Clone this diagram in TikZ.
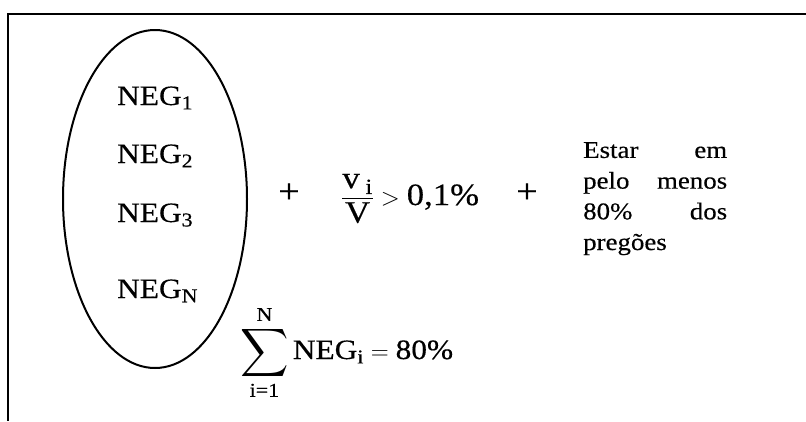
\documentclass[tikz,border=0pt]{standalone}
\usepackage{amsmath}
\usepackage{fontspec}
\setmainfont{Liberation Serif}[FakeStretch=1.12, FakeBold=0.4]
\usetikzlibrary{positioning}

\newcommand{\somatorio}{\mathop{\vcenter{\hbox{\scalebox{1.35}{$\displaystyle\sum$}}}}\limits}

\tikzset{
  negtext/.style={inner sep=0pt, anchor=base west, font=\fontsize{28}{32}\selectfont},
  plussign/.style={inner sep=0pt, anchor=center, font=\fontsize{34}{36}\selectfont},
  mathtext/.style={inner sep=0pt, anchor=base west, font=\fontsize{31}{36}\selectfont},
}

\begin{document}
\begin{tikzpicture}[x=1pt, y=-1pt]
\useasboundingbox (0,0) rectangle (806,421);
% moldura aberta
\draw[line width=2.2pt] (806,14) -- (8,14) -- (8,421);
% conjunto dos negocios
\draw[line width=2pt] (155,199) ellipse [x radius=92, y radius=169];
\foreach \s/\y in {1/105,2/163,3/222,N/298} {
  \node[negtext] (neg\s) at (117,\y) {NEG\textsubscript{\s}};
}
\node[negtext] (soma) at (240,359)
  {$\somatorio_{\text{i=1}}^{\text{N}}\text{NEG}_{\text{i}} = \text{80\%}$};
% criterios
\node[plussign] (mais1) at (289,193) {+};
\node[mathtext] (razao) at (341,205) {$\dfrac{\text{v}_{\;\text{i}}}{\text{V}} > \text{0,1\%}$};
\node[plussign] (mais2) at (527,193) {+};
\node[inner sep=0pt, anchor=north west, text width=144pt, align=left,
      font=\fontsize{24}{30.7}\selectfont] (pregoes) at (583,142)
  {Estar\hfill em\\
   pelo\hfill menos\\
   80\%\hfill dos\\
   pregões};
\end{tikzpicture}
\end{document}
